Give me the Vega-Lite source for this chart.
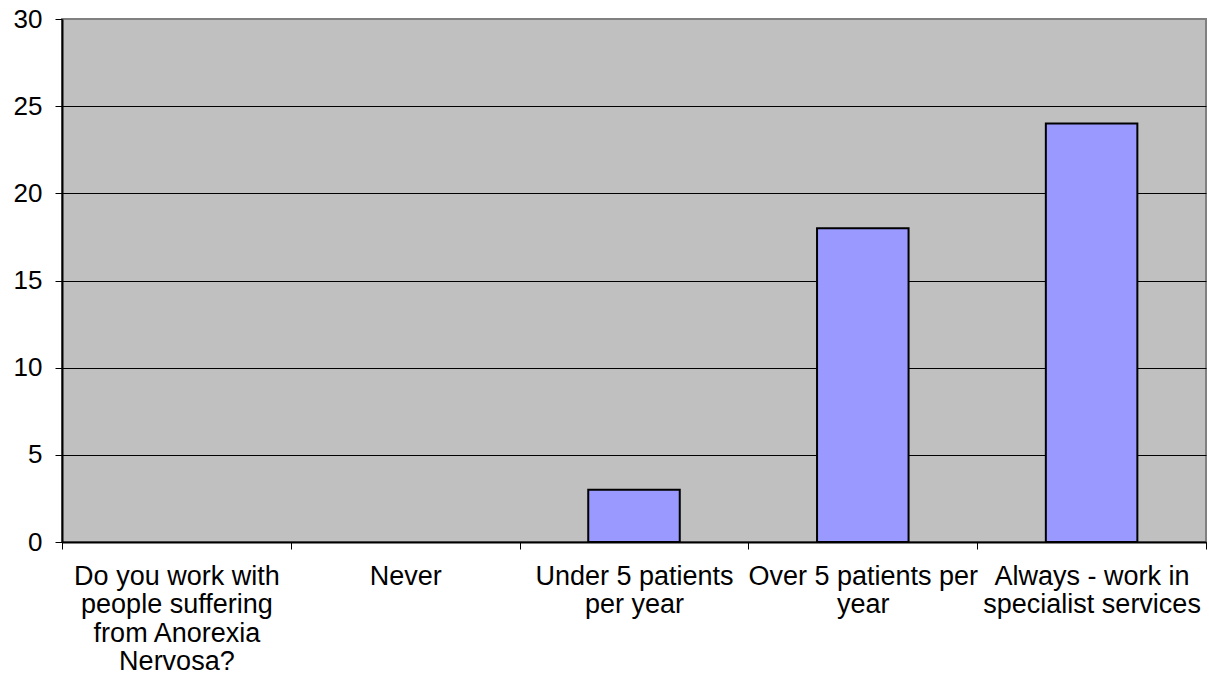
{
  "$schema": "https://vega.github.io/schema/vega-lite/v6.json",
  "width": 1144,
  "height": 523,
  "autosize": "none",
  "padding": {"left": 62, "top": 19, "right": 3, "bottom": 137},
  "background": "white",
  "config": {
    "font": "Liberation Sans",
    "view": {"fill": "#C0C0C0", "stroke": "#808080", "strokeWidth": 2}
  },
  "data": {
    "values": [
      {"category": "Do you work with people suffering from Anorexia Nervosa?", "count": 0},
      {"category": "Never", "count": 0},
      {"category": "Under 5 patients per year", "count": 3},
      {"category": "Over 5 patients per year", "count": 18},
      {"category": "Always - work in specialist services", "count": 24}
    ]
  },
  "mark": {"type": "bar", "fill": "#9999FF", "stroke": "black", "width": {"band": 0.4}},
  "encoding": {
    "strokeWidth": {"condition": {"test": "datum.count == 0", "value": 0}, "value": 2},
    "x": {
      "field": "category",
      "type": "nominal",
      "sort": null,
      "scale": {"paddingInner": 0, "paddingOuter": 0},
      "axis": {
        "title": null,
        "labelAngle": 0,
        "labelFontSize": 27,
        "labelColor": "black",
        "labelLineHeight": 28.5,
        "labelPadding": 14,
        "labelLimit": 0,
        "domainColor": "black",
        "domainWidth": 2,
        "tickColor": "black",
        "tickSize": 7,
        "tickBand": "extent",
        "labelExpr": "datum.value == 'Do you work with people suffering from Anorexia Nervosa?' ? ['Do you work with', 'people suffering', 'from Anorexia', 'Nervosa?'] : datum.value == 'Under 5 patients per year' ? ['Under 5 patients', 'per year'] : datum.value == 'Over 5 patients per year' ? ['Over 5 patients per', 'year'] : datum.value == 'Always - work in specialist services' ? ['Always - work in', 'specialist services'] : datum.value"
      }
    },
    "y": {
      "field": "count",
      "type": "quantitative",
      "scale": {"domain": [0, 30], "nice": false},
      "axis": {
        "title": null,
        "values": [0, 5, 10, 15, 20, 25, 30],
        "labelFontSize": 26,
        "labelColor": "black",
        "labelPadding": 13,
        "domainColor": "black",
        "domainWidth": 2,
        "tickColor": "black",
        "tickSize": 7,
        "grid": true,
        "gridColor": {"condition": {"test": "datum.value == 30", "value": "#808080"}, "value": "black"},
        "gridOpacity": 1
      }
    }
  }
}
